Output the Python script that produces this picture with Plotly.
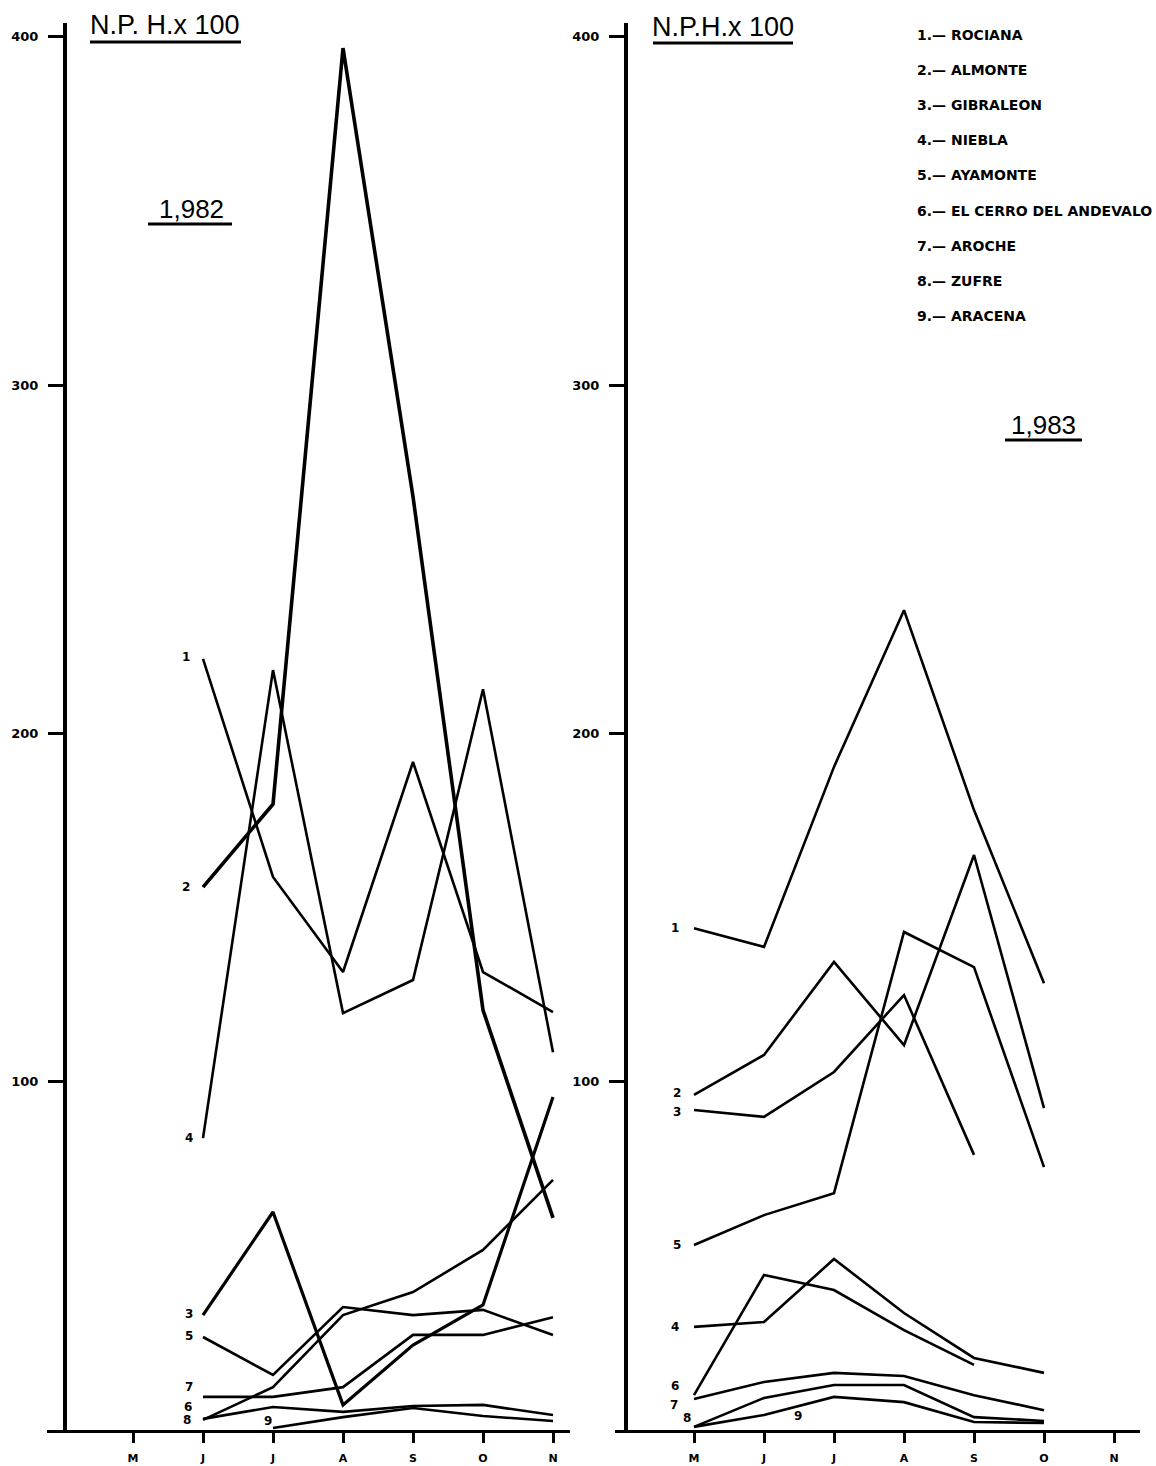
import plotly.graph_objects as go

W, H = 1156, 1466

# ---------------- data ----------------
month_labels = ["M", "J", "J", "A", "S", "O", "N"]
month_pos = [0, 1, 2, 3, 4, 5, 6]
y_tick_vals = [100, 200, 300, 400]
y_tick_text = ["100", "200", "300", "400"]

series_ids = ["1", "2", "3", "4", "5", "6", "7", "8", "9"]
legend_names = ["ROCIANA", "ALMONTE", "GIBRALEON", "NIEBLA", "AYAMONTE",
                "EL CERRO DEL ANDEVALO", "AROCHE", "ZUFRE", "ARACENA"]

# 1982 (M, J, J, A, S, O, N)
rociana_1982 = [None, 221.4, 158.8, 131.5, 191.8, 131.5, 120.0]
almonte_1982 = [None, 155.9, 179.7, 396.8, 268.0, 120.6, 60.9]
gibraleon_1982 = [None, 33.0, 62.6, 7.2, 24.4, 35.9, 95.6]
niebla_1982 = [None, 83.8, 218.2, 119.7, 129.2, 212.7, 108.5]
ayamonte_1982 = [None, 26.7, 15.8, 35.3, 33.0, 34.5, 27.3]
cerro_1982 = [None, 3.2, 6.6, 5.2, 6.9, 7.2, 4.3]
aroche_1982 = [None, 9.5, 9.5, 12.3, 27.3, 27.3, 32.4]
zufre_1982 = [None, 2.9, 12.3, 33.0, 39.6, 51.7, 71.8]
aracena_1982 = [None, None, 0.6, 3.7, 6.3, 4.0, 2.6]

# 1983 (M, J, J, A, S, O, N)
rociana_1983 = [144.1, 138.7, 190.4, 235.4, 178.0, 128.3, None]
almonte_1983 = [96.2, 107.7, 134.4, 110.5, 165.1, 92.4, None]
gibraleon_1983 = [91.9, 89.9, 102.8, 124.9, 79.0, None, None]
niebla_1983 = [29.6, 31.0, 49.1, 33.6, 20.7, 16.4, None]
ayamonte_1983 = [53.1, 61.7, 68.0, 143.0, 132.9, 75.5, None]
cerro_1983 = [10.0, 44.5, 40.2, 28.7, 18.7, None, None]
aroche_1983 = [8.9, 13.8, 16.4, 15.5, 10.0, 5.7, None]
zufre_1983 = [0.9, 9.2, 12.9, 12.9, 3.7, 2.6, None]
aracena_1983 = [0.9, 4.3, 9.5, 8.0, 2.3, 2.0, None]

data_1982 = [rociana_1982, almonte_1982, gibraleon_1982, niebla_1982, ayamonte_1982,
             cerro_1982, aroche_1982, zufre_1982, aracena_1982]
data_1983 = [rociana_1983, almonte_1983, gibraleon_1983, niebla_1983, ayamonte_1983,
             cerro_1983, aroche_1983, zufre_1983, aracena_1983]

# ---------------- styling ----------------
INK = "#000000"
LBL_FONT = dict(family="DejaVu Sans", size=12, color=INK, weight="bold")
TITLE_FONT = dict(family="Liberation Sans", size=27, color=INK)
YEAR_FONT = dict(family="Liberation Sans Narrow, Liberation Sans", size=26, color=INK)

# label offsets (pixels) relative to first point of each series
lbl_off_1982 = {"1": (-17, 2), "2": (-17, 0), "3": (-14, 1), "4": (-14, 0), "5": (-14, 1),
                "6": (-15, 12), "7": (-14, 10), "8": (-16, 0), "9": (-5, 7)}
lbl_off_1983 = {"1": (-19, 0), "2": (-17, 2), "3": (-17, -2), "4": (-19, 0), "5": (-17, 0),
                "6": (-19, 9), "7": (-20, -6), "8": (-7, 9), "9": (104, 11)}
width_1982 = {"2": 3.6, "3": 3.2}

def px_x(x):
    return x / W

def px_y(y):
    return 1 - y / H

fig = go.Figure()

def first_point(vals):
    for i, v in enumerate(vals):
        if v is not None:
            return month_pos[i], v

annotations = []
for sid, vals in zip(series_ids, data_1982):
    fig.add_trace(go.Scatter(x=month_pos, y=vals, mode="lines", xaxis="x", yaxis="y",
                             line=dict(color=INK, width=width_1982.get(sid, 2.6)),
                             showlegend=False, hoverinfo="skip"))
    fx, fy = first_point(vals)
    dx, dy = lbl_off_1982[sid]
    annotations.append(dict(x=fx, y=fy, xref="x", yref="y", text=sid, showarrow=False,
                            xshift=dx, yshift=dy, font=LBL_FONT))

for sid, vals in zip(series_ids, data_1983):
    fig.add_trace(go.Scatter(x=month_pos, y=vals, mode="lines", xaxis="x2", yaxis="y2",
                             line=dict(color=INK, width=2.6),
                             showlegend=False, hoverinfo="skip"))
    fx, fy = first_point(vals)
    dx, dy = lbl_off_1983[sid]
    annotations.append(dict(x=fx, y=fy, xref="x2", yref="y2", text=sid, showarrow=False,
                            xshift=dx, yshift=dy, font=LBL_FONT))

# titles
annotations.append(dict(x=px_x(165), y=px_y(25), xref="paper", yref="paper", text="N.P. H.x 100",
                        showarrow=False, font=TITLE_FONT, xanchor="center", yanchor="middle"))
annotations.append(dict(x=px_x(723), y=px_y(27), xref="paper", yref="paper", text="N.P.H.x 100",
                        showarrow=False, font=TITLE_FONT, xanchor="center", yanchor="middle"))
annotations.append(dict(x=px_x(191), y=px_y(209), xref="paper", yref="paper", text="1,982",
                        showarrow=False, font=YEAR_FONT, xanchor="center", yanchor="middle"))
annotations.append(dict(x=px_x(1043), y=px_y(425), xref="paper", yref="paper", text="1,983",
                        showarrow=False, font=YEAR_FONT, xanchor="center", yanchor="middle"))

# legend text
for i, (sid, name) in enumerate(zip(series_ids, legend_names)):
    annotations.append(dict(x=px_x(915), y=px_y(35 + 35.1 * i), xref="paper", yref="paper",
                            text=f"{sid}.\u2014 {name}", showarrow=False,
                            font=dict(family="DejaVu Sans", size=14, color=INK, weight="bold"),
                            xanchor="left", yanchor="middle"))

# underlines
shapes = []
for x0, x1, y in [(90, 241, 42), (653, 793, 43), (148, 232, 224), (1005, 1082, 440)]:
    shapes.append(dict(type="line", xref="paper", yref="paper", x0=px_x(x0), x1=px_x(x1),
                       y0=px_y(y), y1=px_y(y), line=dict(color=INK, width=3)))

y_domain = [px_y(1430), px_y(23)]
axis_common_y = dict(range=[0, 404], domain=y_domain, showgrid=False, zeroline=False,
                     showline=True, linecolor=INK, linewidth=4, ticks="outside", ticklen=15,
                     tickwidth=3, tickcolor=INK, tickvals=y_tick_vals, ticktext=y_tick_text,
                     tickfont=dict(family="DejaVu Sans", size=13, color=INK, weight="bold"),
                     ticklabelstandoff=7, anchor="free", fixedrange=True)
axis_common_x = dict(showgrid=False, zeroline=False, showline=True, linecolor=INK, linewidth=3,
                     ticks="outside", ticklen=10, tickwidth=2.5, tickcolor=INK,
                     tickvals=month_pos, ticktext=month_labels,
                     tickfont=dict(family="DejaVu Sans", size=11, color=INK, weight="bold"),
                     ticklabelstandoff=6, fixedrange=True)

fig.update_layout(
    width=W, height=H, margin=dict(l=0, r=0, t=0, b=0),
    paper_bgcolor="white", plot_bgcolor="rgba(0,0,0,0)",
    xaxis=dict(axis_common_x, domain=[px_x(47), px_x(570)],
               range=[(47 - 133) / 70, (570 - 133) / 70], anchor="y"),
    yaxis=dict(axis_common_y, position=px_x(65)),
    xaxis2=dict(axis_common_x, domain=[px_x(615), px_x(1140)],
                range=[(615 - 694) / 70, (1140 - 694) / 70], anchor="y2"),
    yaxis2=dict(axis_common_y, position=px_x(626)),
    annotations=annotations, shapes=shapes, showlegend=False,
)

fig.write_html("out.html", config={"displayModeBar": False},
               post_script="document.body.style.margin='0';")
